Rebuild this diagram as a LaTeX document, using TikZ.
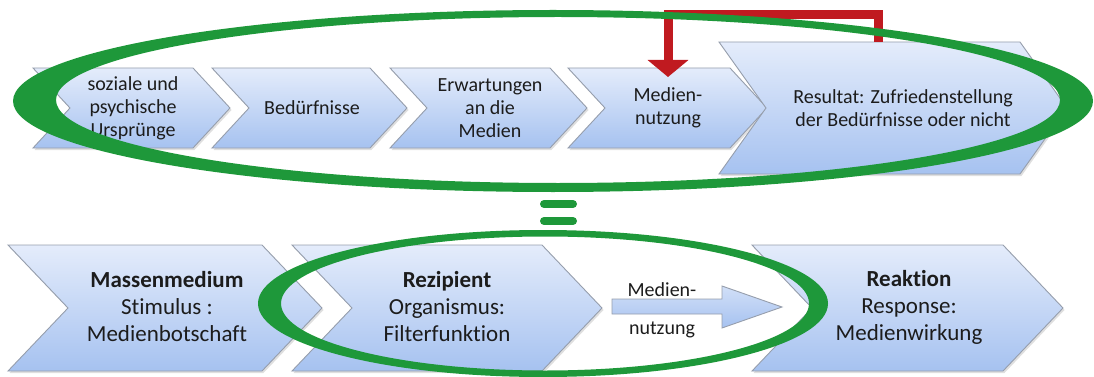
\documentclass[tikz,border=0pt]{standalone}
\usepackage{fontspec}
\setmainfont{Carlito}[Ligatures={NoCommon}]
\usetikzlibrary{arrows.meta,shadows}
\definecolor{chevtop}{RGB}{228,236,251}
\definecolor{chevbot}{RGB}{166,194,240}
\definecolor{chevline}{RGB}{150,158,172}
\definecolor{ovalgreen}{RGB}{30,152,58}
\definecolor{loopred}{RGB}{192,26,32}
\definecolor{txt}{RGB}{28,28,28}
\tikzset{
  chev/.style={top color=chevtop, bottom color=chevbot, draw=chevline, line width=0.9pt,
    drop shadow={opacity=0.25, shadow xshift=1.5pt, shadow yshift=-2pt}},
  toptext/.style={align=center, inner sep=0pt, text=txt, font=\fontsize{20}{23}\selectfont},
  bottext/.style={align=center, inner sep=0pt, text=txt, font=\fontsize{23}{27}\selectfont},
  oval/.style={fill=ovalgreen, even odd rule},
  feedback/.style={draw=loopred, line width=9pt, -{Triangle[width=40pt,length=17pt]}},
  eqbar/.style={draw=ovalgreen, line width=8pt, line cap=round},
}
\begin{document}
\begin{tikzpicture}[x=1pt,y=-1pt]
\useasboundingbox (0,0) rectangle (1094,377);
% top row chevrons
\path[chev] (33,68) -- (193,68) -- (230,108) -- (193,148) -- (33,148) -- (70,108) -- cycle;
\path[chev] (212,68) -- (370,68) -- (407,108) -- (370,148) -- (212,148) -- (249,108) -- cycle;
\path[chev] (390,68) -- (550,68) -- (587,108) -- (550,148) -- (390,148) -- (427,108) -- cycle;
\path[chev] (568,68) -- (730,68) -- (767,108) -- (730,148) -- (568,148) -- (605,108) -- cycle;
\path[chev] (719,42) -- (1020,42) -- (1067,108) -- (1020,174) -- (719,174) -- (766,108) -- cycle;
\node[toptext] (t1) at (133,108) {soziale und\\psychische\\Ursprünge};
\node[toptext] (t2) at (312,108) {Bedürfnisse};
\node[toptext] (t3) at (490,108) {Erwartungen\\an die\\Medien};
\node[toptext] (t4) at (668,108) {Medien-\\nutzung};
\node[toptext] (t5) at (903,108) {Resultat: Zufriedenstellung\\der Bedürfnisse oder nicht};
% bottom row chevrons
\path[chev] (8,245) -- (262,245) -- (322,308) -- (262,371) -- (8,371) -- (68,308) -- cycle;
\path[chev] (292,245) -- (542,245) -- (602,308) -- (542,371) -- (292,371) -- (352,308) -- cycle;
\path[chev] (752,245) -- (1003,245) -- (1063,308) -- (1003,371) -- (752,371) -- (812,308) -- cycle;
\path[top color=chevtop!70!chevbot, bottom color=chevbot, draw=chevline, line width=0.9pt]
  (612,299) -- (722,299) -- (722,286) -- (782,307) -- (722,328) -- (722,314) -- (612,314) -- cycle;
\node[bottext] (b1) at (167,307) {\textbf{Massenmedium}\\Stimulus :\\Medienbotschaft};
\node[bottext] (b2) at (447,307) {\textbf{Rezipient}\\Organismus:\\Filterfunktion};
\node[bottext] (b3) at (909,307) {\textbf{Reaktion}\\Response:\\Medienwirkung};
\node[toptext] (m1) at (662,290) {Medien-};
\node[toptext] (m2) at (662,330) {nutzung};
% feedback connector
\coordinate (fbstart) at (878,42);
\coordinate (fbend) at (668,77);
\draw[feedback] (fbstart) |- (668,14.5) -- (fbend);
% green ovals
\path[oval] (553,101) ellipse [x radius=540pt, y radius=91pt]
            (558,100) ellipse [x radius=502pt, y radius=83pt];
\path[oval] (543,303.5) ellipse [x radius=285pt, y radius=73.5pt]
            (545,303.5) ellipse [x radius=264pt, y radius=67pt];
% equals sign
\draw[eqbar] (544,204) -- (573,204);
\draw[eqbar] (544,221) -- (573,221);
\end{tikzpicture}
\end{document}
